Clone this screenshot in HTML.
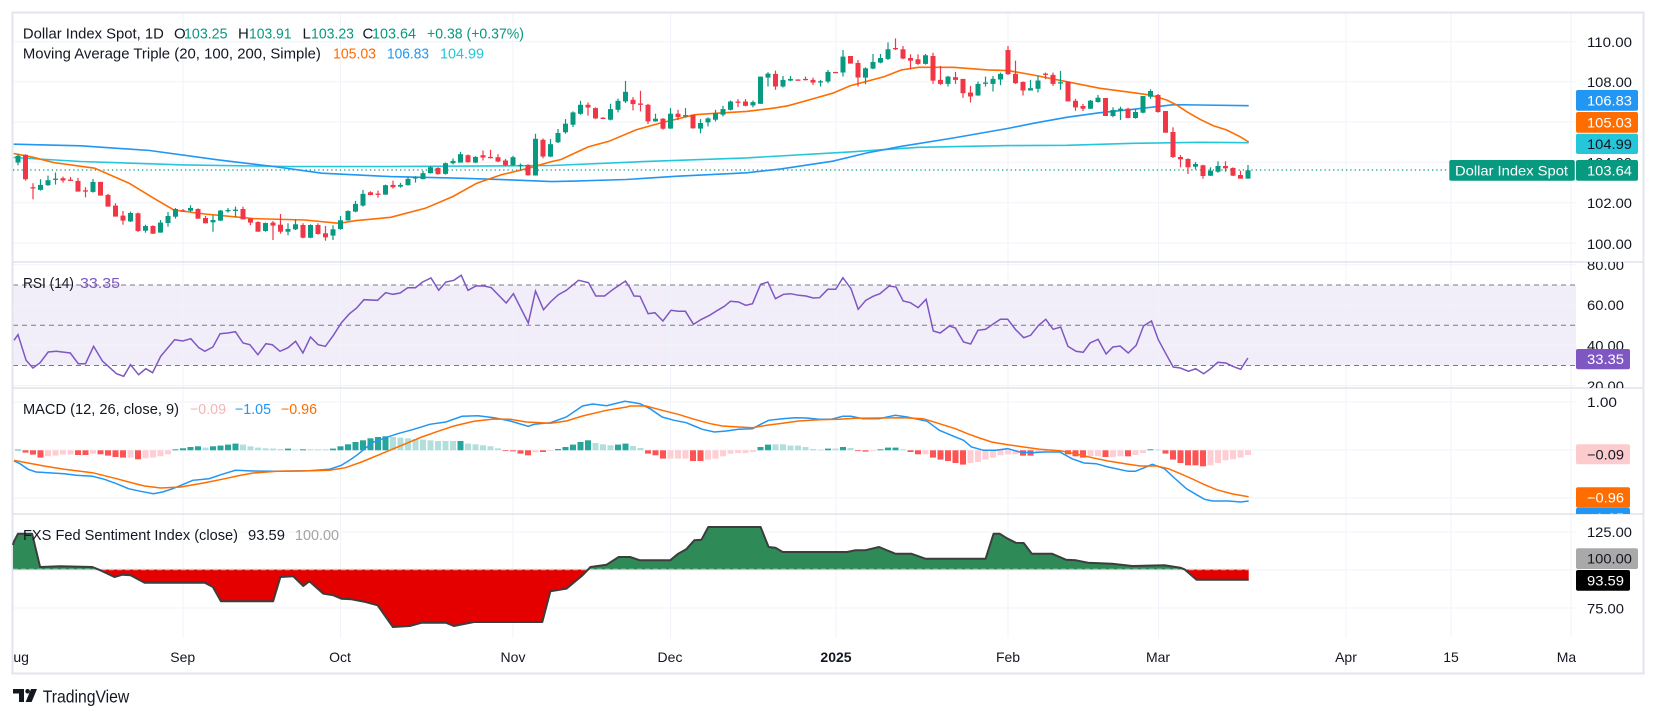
<!DOCTYPE html>
<html><head><meta charset="utf-8">
<style>
html,body{margin:0;padding:0;background:#fff;overflow:hidden;}
svg{display:block;font-family:"Liberation Sans",Arial,sans-serif;}
</style></head>
<body>
<svg id="s" xmlns="http://www.w3.org/2000/svg" width="1656" height="718" viewBox="0 0 1656 718">
<defs>
<clipPath id="cMain"><rect x="13" y="13" width="1563" height="249"/></clipPath>
<clipPath id="cAxMain"><rect x="1576" y="13" width="67" height="249"/></clipPath>
<clipPath id="cAxRsi"><rect x="1576" y="262" width="67" height="126"/></clipPath>
<clipPath id="cAxMacd"><rect x="1576" y="388" width="67" height="126"/></clipPath>
<clipPath id="cAxSent"><rect x="1576" y="514" width="67" height="124"/></clipPath>
<clipPath id="cTime"><rect x="13" y="640" width="1563" height="32"/></clipPath>
<clipPath id="cUp"><rect x="13" y="514" width="1563" height="55.5"/></clipPath>
<clipPath id="cDn"><rect x="13" y="569.5" width="1563" height="70"/></clipPath>
</defs>
<rect width="1656" height="718" fill="#fff"/>

<!-- RSI band -->
<rect x="13" y="285" width="1563" height="80.5" fill="#f2eef9"/>

<!-- grid -->
<g stroke="#f0f3fa" stroke-width="1">
<line x1="183" y1="13" x2="183" y2="638"/><line x1="340.5" y1="13" x2="340.5" y2="638"/>
<line x1="513" y1="13" x2="513" y2="638"/><line x1="670.5" y1="13" x2="670.5" y2="638"/>
<line x1="836" y1="13" x2="836" y2="638"/><line x1="1008" y1="13" x2="1008" y2="638"/>
<line x1="1158.5" y1="13" x2="1158.5" y2="638"/><line x1="1346" y1="13" x2="1346" y2="638"/>
<line x1="1451" y1="13" x2="1451" y2="638"/><line x1="1571" y1="13" x2="1571" y2="638"/>
<line x1="13" y1="41.7" x2="1576" y2="41.7"/><line x1="13" y1="81.7" x2="1576" y2="81.7"/>
<line x1="13" y1="122" x2="1576" y2="122"/><line x1="13" y1="162.3" x2="1576" y2="162.3"/>
<line x1="13" y1="202.7" x2="1576" y2="202.7"/><line x1="13" y1="243" x2="1576" y2="243"/>
<line x1="13" y1="264.8" x2="1576" y2="264.8"/><line x1="13" y1="305" x2="1576" y2="305"/>
<line x1="13" y1="345.3" x2="1576" y2="345.3"/><line x1="13" y1="385.6" x2="1576" y2="385.6"/>
<line x1="13" y1="402" x2="1576" y2="402"/><line x1="13" y1="450" x2="1576" y2="450"/>
<line x1="13" y1="498" x2="1576" y2="498"/>
<line x1="13" y1="532" x2="1576" y2="532"/><line x1="13" y1="570" x2="1576" y2="570"/>
<line x1="13" y1="608" x2="1576" y2="608"/>
</g>

<!-- RSI dashed levels -->
<g stroke="#787b86" stroke-width="1" stroke-dasharray="5,4">
<line x1="13" y1="285" x2="1576" y2="285"/>
<line x1="13" y1="325.2" x2="1576" y2="325.2"/>
<line x1="13" y1="365.5" x2="1576" y2="365.5"/>
</g>

<!-- separators & border -->
<g stroke="#e0e3eb" stroke-width="1.5">
<line x1="13" y1="262" x2="1643" y2="262"/>
<line x1="13" y1="388" x2="1643" y2="388"/>
<line x1="13" y1="514" x2="1643" y2="514"/>
</g>
<rect x="12.5" y="12.5" width="1631" height="661" fill="none" stroke="#e3e5ec" stroke-width="2"/>

<!-- price dotted line -->
<line x1="13" y1="170" x2="1449" y2="170" stroke="#089981" stroke-width="1.3" stroke-dasharray="1.3,3"/>

<g id="mainG" clip-path="url(#cMain)">
<polyline fill="none" stroke="#26c6da" stroke-width="1.6" points="13.7,157.5 80.9,161.5 184.2,164.9 287.4,166.5 390.7,166.5 494,165.9 551.9,165.5 643.3,161.6 746.6,157.9 849.9,151.9 918.7,147.3 1008.2,145.6 1066.7,145.3 1133.3,143.3 1200,142.3 1248.7,142.7"/>
<polyline fill="none" stroke="#2196f3" stroke-width="1.6" points="13.7,144.2 80.9,145.8 149.7,150.5 218.6,159.9 273.7,166.5 321.9,173.2 390.7,176.6 459.6,178.2 511.2,179.9 551.9,181.6 574.4,181.1 626.1,179.5 677.7,176.2 746.6,172.8 781,168.9 832.7,161.2 867.1,152.9 901.5,146.3 953.2,138 1008.2,128.4 1033.3,123.3 1066.7,117.3 1100,112.7 1133.3,109.3 1156.7,106.7 1173.3,104.7 1200,105 1248.7,105.7"/>
<polyline fill="none" stroke="#ff6d00" stroke-width="1.6" points="13.7,153.5 32.7,157.2 53.3,162.5 94.6,168.2 129.1,183.2 156.6,199.9 173.8,210 204.8,214 253,218.6 304.7,220 339.1,223.3 356.3,220.6 390.7,217.3 425.2,208.3 452.7,196.6 476.8,183.2 500.9,174.9 528.5,168.2 551.9,161.5 560.7,159.6 588.2,146.9 608.9,141.3 636.4,129.7 660.5,123 694.9,114.7 719,113.1 746.6,111.4 774.1,108.1 787.9,105.8 815.4,98.1 832.7,93.2 849.9,85.9 884.3,76.6 901.5,69.9 918.7,67.3 953.2,67.3 987.6,69.9 1008.2,70.6 1033.3,75 1066.7,81.7 1100,88.3 1133.3,92.7 1150,95 1166.7,100 1176.7,105 1186.7,111.7 1200,119.3 1213.3,125.7 1226.7,130 1240,136.7 1248.7,142"/>
<g id="candles"></g>
</g>

<!-- RSI line -->
<polyline id="rsi" fill="none" stroke="#7e57c2" stroke-width="1.5"/>

<!-- MACD -->
<g id="hist"></g>
<polyline id="macdB" fill="none" stroke="#2196f3" stroke-width="1.5"/>
<polyline id="macdO" fill="none" stroke="#ff6d00" stroke-width="1.5"/>

<!-- Sentiment -->
<polygon id="sUp" fill="#2e8b57" clip-path="url(#cUp)"/>
<polygon id="sDn" fill="#e50000" clip-path="url(#cDn)"/>
<line x1="13" y1="569.5" x2="1249" y2="569.5" stroke="#c8c8c8" stroke-width="1.5" stroke-dasharray="5,3"/>
<polyline id="sLine" fill="none" stroke="#3d3d3d" stroke-width="2" stroke-linejoin="round"/>

<!-- Legends -->
<g font-size="15" lengthAdjust="spacingAndGlyphs">
<text x="22.9" y="38.5" fill="#131722" textLength="141" lengthAdjust="spacingAndGlyphs">Dollar Index Spot, 1D</text>
<text x="174" y="38.5" fill="#131722">O</text>
<text x="184" y="38.5" fill="#089981" textLength="43.5" lengthAdjust="spacingAndGlyphs">103.25</text>
<text x="238" y="38.5" fill="#131722">H</text>
<text x="249" y="38.5" fill="#089981" textLength="42.5" lengthAdjust="spacingAndGlyphs">103.91</text>
<text x="302.5" y="38.5" fill="#131722">L</text>
<text x="311" y="38.5" fill="#089981" textLength="43" lengthAdjust="spacingAndGlyphs">103.23</text>
<text x="362.5" y="38.5" fill="#131722">C</text>
<text x="372" y="38.5" fill="#089981" textLength="44" lengthAdjust="spacingAndGlyphs">103.64</text>
<text x="427" y="38.5" fill="#089981" textLength="97" lengthAdjust="spacingAndGlyphs">+0.38 (+0.37%)</text>
<text x="22.9" y="58.5" fill="#131722" textLength="298" lengthAdjust="spacingAndGlyphs">Moving Average Triple (20, 100, 200, Simple)</text>
<text x="333" y="58.5" fill="#ff6d00" textLength="43" lengthAdjust="spacingAndGlyphs">105.03</text>
<text x="387" y="58.5" fill="#2196f3" textLength="42" lengthAdjust="spacingAndGlyphs">106.83</text>
<text x="440" y="58.5" fill="#26c6da" textLength="44" lengthAdjust="spacingAndGlyphs">104.99</text>
</g>
<g font-size="14.5">
<text x="23" y="287.8" fill="#131722" textLength="51" lengthAdjust="spacingAndGlyphs">RSI (14)</text>
<text x="80" y="287.8" fill="#7e57c2" textLength="40" lengthAdjust="spacingAndGlyphs">33.35</text>
<text x="23" y="413.8" fill="#131722" textLength="156" lengthAdjust="spacingAndGlyphs">MACD (12, 26, close, 9)</text>
<text x="190" y="413.8" fill="#f7b3b6" textLength="36" lengthAdjust="spacingAndGlyphs">−0.09</text>
<text x="235" y="413.8" fill="#2196f3" textLength="36" lengthAdjust="spacingAndGlyphs">−1.05</text>
<text x="281" y="413.8" fill="#ff6d00" textLength="36" lengthAdjust="spacingAndGlyphs">−0.96</text>
<text x="23" y="539.8" fill="#131722" textLength="215" lengthAdjust="spacingAndGlyphs">FXS Fed Sentiment Index (close)</text>
<text x="248" y="539.8" fill="#131722" textLength="37" lengthAdjust="spacingAndGlyphs">93.59</text>
<text x="295" y="539.8" fill="#a3a3a3" textLength="44" lengthAdjust="spacingAndGlyphs">100.00</text>
</g>

<!-- Price axis main -->
<g font-size="14" fill="#131722" clip-path="url(#cAxMain)">
<text x="1587" y="46.8" textLength="45" lengthAdjust="spacingAndGlyphs">110.00</text>
<text x="1587" y="86.8" textLength="45" lengthAdjust="spacingAndGlyphs">108.00</text>
<text x="1587" y="127" textLength="45" lengthAdjust="spacingAndGlyphs">106.00</text>
<text x="1587" y="167.3" textLength="45" lengthAdjust="spacingAndGlyphs">104.00</text>
<text x="1587" y="207.8" textLength="45" lengthAdjust="spacingAndGlyphs">102.00</text>
<text x="1587" y="249" textLength="45" lengthAdjust="spacingAndGlyphs">100.00</text>
<rect x="1576" y="90" width="62" height="20.7" rx="2" fill="#2196f3"/>
<text x="1587" y="105.3" fill="#fff" textLength="45" lengthAdjust="spacingAndGlyphs">106.83</text>
<rect x="1576" y="112" width="62" height="20.7" rx="2" fill="#ff6d00"/>
<text x="1587" y="127.3" fill="#fff" textLength="45" lengthAdjust="spacingAndGlyphs">105.03</text>
<rect x="1576" y="133.7" width="62" height="20.3" rx="2" fill="#26c6da"/>
<text x="1587" y="148.8" fill="#131722" textLength="45" lengthAdjust="spacingAndGlyphs">104.99</text>
<rect x="1576" y="160" width="62" height="20.7" rx="2" fill="#089981"/>
<text x="1587" y="175.3" fill="#fff" textLength="45" lengthAdjust="spacingAndGlyphs">103.64</text>
</g>
<rect x="1449.3" y="160" width="125.5" height="20.7" rx="2" fill="#089981"/>
<text x="1455" y="175.3" font-size="14" fill="#fff" textLength="113" lengthAdjust="spacingAndGlyphs">Dollar Index Spot</text>

<!-- RSI axis -->
<g font-size="14" fill="#131722" clip-path="url(#cAxRsi)">
<text x="1587" y="270" textLength="37" lengthAdjust="spacingAndGlyphs">80.00</text>
<text x="1587" y="310.2" textLength="37" lengthAdjust="spacingAndGlyphs">60.00</text>
<text x="1587" y="350.5" textLength="37" lengthAdjust="spacingAndGlyphs">40.00</text>
<text x="1587" y="390.8" textLength="37" lengthAdjust="spacingAndGlyphs">20.00</text>
<rect x="1576" y="349" width="54" height="20.3" rx="2" fill="#7e57c2"/>
<text x="1587" y="364.2" fill="#fff" textLength="37" lengthAdjust="spacingAndGlyphs">33.35</text>
</g>

<!-- MACD axis -->
<g font-size="14" fill="#131722" clip-path="url(#cAxMacd)">
<text x="1587" y="407.2" textLength="30" lengthAdjust="spacingAndGlyphs">1.00</text>
<rect x="1576" y="444.3" width="54" height="20" rx="2" fill="#fccbcd"/>
<text x="1587" y="459.3" textLength="37" lengthAdjust="spacingAndGlyphs">−0.09</text>
<rect x="1576" y="507.7" width="54" height="20" rx="2" fill="#2196f3"/>
<text x="1587" y="522.8" fill="#fff" textLength="37" lengthAdjust="spacingAndGlyphs">−1.05</text>
<rect x="1576" y="487.3" width="54" height="20.4" rx="2" fill="#ff6d00"/>
<text x="1587" y="502.5" fill="#fff" textLength="37" lengthAdjust="spacingAndGlyphs">−0.96</text>
</g>

<!-- Sentiment axis -->
<g font-size="14" fill="#131722" clip-path="url(#cAxSent)">
<text x="1587" y="537.2" textLength="45" lengthAdjust="spacingAndGlyphs">125.00</text>
<text x="1587" y="613.3" textLength="37" lengthAdjust="spacingAndGlyphs">75.00</text>
<rect x="1576" y="548.3" width="62" height="20.7" rx="2" fill="#a9a9a9"/>
<text x="1587" y="563.6" textLength="45" lengthAdjust="spacingAndGlyphs">100.00</text>
<rect x="1576" y="570" width="54" height="20.7" rx="2" fill="#000"/>
<text x="1587" y="585.3" fill="#fff" textLength="37" lengthAdjust="spacingAndGlyphs">93.59</text>
</g>

<!-- Time axis -->
<g font-size="14" fill="#131722" text-anchor="middle" clip-path="url(#cTime)">
<text x="16.5" y="662">Aug</text>
<text x="182.7" y="662">Sep</text>
<text x="340" y="662">Oct</text>
<text x="513" y="662">Nov</text>
<text x="670" y="662">Dec</text>
<text x="836" y="662" font-weight="bold">2025</text>
<text x="1008" y="662">Feb</text>
<text x="1158" y="662">Mar</text>
<text x="1346" y="662">Apr</text>
<text x="1451" y="662">15</text>
<text x="1570" y="662">May</text>
</g>

<!-- TradingView logo -->
<g fill="#131722">
<path d="M13 689 H24 V702 H19 V693.5 H13 Z"/>
<circle cx="27.6" cy="691.3" r="2.3"/>
<polygon points="31,689 37,689 31.6,702 25.6,702"/>
<text x="42.7" y="702.5" font-size="17.5" textLength="86.6" lengthAdjust="spacingAndGlyphs">TradingView</text>
</g>
</svg>

<script>
(function(){
const NS='http://www.w3.org/2000/svg';
function el(tag,a,p){const e=document.createElementNS(NS,tag);for(const k in a)e.setAttribute(k,a[k]);p.appendChild(e);return e;}
const Z6=[[282,288,308,316,1],[283,285,358,362,0],[370,382,384,418,0],[358,375,390,392,1],[347,361,376,378,1],[338,356,358,374,1],[350,355,362,368,0],[351,359,361,363,0],[354,363,395,395,0],[382,391,393,412,0],
[357,366,396,398,1],[366,366,407,407,0],[402,405,440,440,0],[430,437,470,470,0],[453,467,482,494,0],[455,459,484,486,1],[458,460,513,516,0],[494,498,512,518,1],[496,498,521,521,0],[480,488,518,518,1],
[456,468,489,500,1],[444,447,470,476,1],[447,451,453,455,0],[436,444,452,456,1],[445,447,476,476,0],[468,474,490,490,0],[466,480,487,515,1],[450,452,482,483,1],[444,450,452,458,1],[440,449,451,472,1],
[440,447,478,478,0],[474,476,488,496,0],[484,486,515,515,0],[488,489,513,515,1],[483,488,497,540,0],[462,494,515,521,0],[490,507,515,526,1],[478,493,508,510,1],[490,495,533,535,0],[493,495,533,535,1],
[490,495,522,524,0],[498,520,532,542,0],[496,508,527,540,1],[468,481,507,509,1],[451,453,481,482,1],[423,432,455,457,1],[390,402,437,440,1],[394,397,405,406,0],[392,401,403,413,0],[374,376,404,405,1],
[362,375,382,386,0],[369,375,380,383,1],[350,357,376,377,1],[349,352,354,368,1],[333,340,358,358,1],[318,322,340,341,1],[322,324,343,344,0],[308,310,342,344,1],[296,303,310,314,1],[276,283,308,308,1],
[284,286,307,308,0],[289,291,308,310,1],[272,286,293,302,0],[270,291,293,296,0],[283,292,305,307,0],[297,302,316,320,0],[288,292,316,318,1],[311,315,317,332,1],[313,315,346,347,0],[222,237,347,347,1],
[236,240,290,295,0],[238,253,290,292,1]];
const Z7=[[298,310,338,340,1],[268,282,308,312,1],[245,248,285,292,1],[213,225,252,255,1],[218,225,233,258,0],[233,235,266,268,0],[262,264,266,268,0],[222,238,270,272,1],[206,213,240,248,1],[153,186,215,220,1],
[202,210,223,242,0],[183,221,223,245,0],[222,225,275,283,0],[252,267,275,276,1],[265,267,297,300,0],[235,252,297,297,1],[240,252,262,271,0],[235,256,258,262,1],[255,255,296,297,0],[268,280,297,311,1],
[263,266,278,290,1],[240,250,270,275,1],[228,238,255,260,1],[212,215,240,242,1],[208,215,217,232,0],[208,215,228,230,0],[212,217,227,233,1],[140,140,222,222,1],[127,131,143,170,1],[122,132,170,180,0],
[138,150,170,173,1],[138,147,152,154,1],[148,149,151,152,0],[140,147,149,152,0],[143,150,158,165,0],[150,154,156,170,1],[120,126,155,160,1],[126,126,128,128,0],[60,80,128,140,1],[78,78,101,101,0],
[90,99,143,170,0],[112,115,143,163,1],[72,96,116,118,1],[72,84,98,100,1],[37,58,87,90,1],[25,54,56,60,0],[48,58,86,88,0],[73,84,92,118,0],[73,88,102,105,0],[72,76,102,104,1],
[68,78,152,162,0],[108,150,162,165,0],[138,140,162,170,1],[126,142,150,162,0],[147,147,190,204,0],[168,188,200,218,0],[155,162,197,198,1],[140,158,160,170,1],[138,147,162,185,1],[128,132,149,166,1],
[48,60,133,135,0],[92,132,160,162,0],[155,156,182,197,0],[150,175,182,182,1],[138,152,177,188,1],[128,131,134,148,0],[128,135,162,168,0],[123,157,160,180,1],[155,155,215,215,0],[207,213,233,243,0]];
const Z8=[[222,228,236,243,0],[210,212,236,237,1],[195,203,216,218,1],[204,204,258,258,0],[232,240,258,262,1],[230,236,242,270,1],[233,236,264,265,0],[238,246,264,266,1],[198,198,248,250,1],[178,183,200,206,1],
[192,195,246,248,0],[243,243,308,308,0],[292,306,381,384,0],[375,381,388,412,0],[385,387,412,432,0],[396,402,410,418,1],[404,406,438,446,0],[412,422,437,438,1],[394,408,425,428,1],[394,408,415,425,0],
[412,414,437,438,0],[422,435,446,446,0],[405,421,446,446,1]];
const gC=document.getElementById('candles');
function drawC(arr,start,fy){arr.forEach(function(c,j){const i=start+j;const x=18+7.5*i;const col=c[4]?'#089981':'#f23645';
 el('line',{x1:x,x2:x,y1:fy(c[0]).toFixed(1),y2:fy(c[3]).toFixed(1),stroke:col,'stroke-width':1.2},gC);
 const t=fy(c[1]),b=fy(c[2]);el('rect',{x:(x-2.5).toFixed(1),y:t.toFixed(1),width:5,height:Math.max(1.3,b-t).toFixed(1),fill:col},gC);});}
drawC(Z6,0,function(y){return 81.7+(y-66)*0.334;});
drawC(Z7,72,function(y){return 41.7+(y-35)*0.332;});
drawC(Z8,142,function(y){return 30+y/3;});

function pts(a,ox,maxx){const r=[];for(let i=0;i<a.length;i+=2){if(maxx!=null&&a[i]>maxx)continue;r.push((ox+a[i]/2.489).toFixed(1)+','+(262+a[i+1]/3).toFixed(1));}return r;}
const R9=[5,235,15,218,35,295,52,318,70,302,90,270,110,268,145,273,165,305,183,305,203,253,225,297,260,335,278,343,295,308,315,338,333,320,350,332,370,283,405,233,425,237,445,230,465,257,480,268,500,255,518,215,537,213,556,209,575,243,592,248,612,278,632,245,648,248,667,268,687,257,706,238,724,273,743,225,762,248,780,253,800,220,820,182,840,155,858,138,876,113,910,115,930,92,948,97,966,93,985,77,1004,77,1022,60,1043,48,1062,85,1080,60,1100,55,1118,40,1135,85,1155,72,1175,72,1193,77,1230,123,1248,95,1285,183,1303,87,1323,143,1340,120,1360,98,1380,85,1410,55,1435,62,1453,102,1475,102,1495,83,1527,57];
const R10=[0,78,10,102,25,103,45,155,62,152,82,177,102,145,120,148,138,148,158,187,178,172,198,160,218,145,235,133,250,118,270,120,288,130,305,125,325,67,343,60,362,110,382,97,400,95,420,100,438,102,456,108,472,107,492,82,512,82,530,47,550,80,568,142,587,115,605,103,622,95,645,72,662,75,680,117,698,122,717,137,737,112,755,207,772,213,795,192,810,198,830,240,848,246,866,205,885,202,905,185,922,172,940,172,960,203,980,227,997,220,1017,190,1035,172,1053,202,1072,195,1090,253,1110,268,1128,271,1145,243,1165,232,1185,276,1202,255,1220,252,1240,273,1260,250,1278,192,1298,177,1315,233,1335,278,1352,315,1370,318,1390,328,1408,320,1428,335,1445,320,1463,301,1483,303,1500,313,1520,322,1538,288];
document.getElementById('rsi').setAttribute('points',pts(R9,12,1530).concat(pts(R10,630)).join(' '));

const MB9=[5,597,20,605,40,622,60,630,90,632,130,635,160,640,200,643,230,652,260,665,290,680,320,688,352,695,375,690,400,680,430,665,450,655,490,650,520,638,556,625,600,627,650,628,700,627,740,626,790,622,820,610,840,595,860,578,880,558,900,540,930,527,960,515,1000,502,1040,487,1080,480,1120,463,1160,461,1200,467,1240,477,1285,493,1300,487,1340,482,1380,465,1420,432,1445,426,1480,431,1525,418];
const MB10=[0,420,25,425,50,440,80,465,110,475,140,482,160,492,180,502,210,510,240,507,270,502,305,500,325,487,345,475,380,470,410,467,440,468,470,472,500,472,530,463,550,463,580,470,620,470,660,460,690,465,740,478,770,505,800,520,830,535,850,555,880,565,910,565,940,560,970,570,1000,572,1030,570,1070,570,1100,590,1130,603,1160,605,1190,615,1240,628,1258,628,1280,617,1300,607,1330,620,1355,648,1385,680,1410,698,1430,712,1450,717,1490,717,1520,720,1540,717];
const MO9=[5,595,40,603,80,612,130,622,200,632,260,650,300,663,330,672,370,678,420,675,480,662,530,650,560,642,600,633,660,628,720,627,790,625,830,617,870,600,900,585,940,565,980,545,1020,525,1060,508,1100,492,1150,478,1200,471,1240,472,1280,480,1340,484,1380,477,1420,462,1480,445,1530,435];
const MO10=[0,432,40,432,80,445,120,457,160,472,200,485,230,492,270,495,305,497,340,490,380,484,420,477,470,473,520,472,560,469,620,468,680,467,730,470,770,485,810,500,840,515,870,528,900,540,940,548,980,555,1020,562,1070,566,1110,576,1150,587,1190,597,1240,607,1270,612,1310,612,1340,620,1370,635,1400,651,1430,668,1460,683,1500,696,1540,704];
document.getElementById('macdB').setAttribute('points',pts(MB9,12,1530).concat(pts(MB10,630)).join(' '));
document.getElementById('macdO').setAttribute('points',pts(MO9,12,1530).concat(pts(MO10,630)).join(' '));

const H="2G,-7R,-13R,-22R,-18r,-16r,-13r,-13r,-14R,-14R,-10r,-12R,-16R,-20R,-22R,-22r,-27R,-24r,-22r,-18r,-12r,3G,6G,10G,12G,8g,12G,14G,17G,20G,17g,12g,8g,6g,5g,4g,5G,2g,3G,3g,3g,3g,5G,12G,18G,25G,30G,36G,40G,42G,40g,38g,36g,34g,32g,30g,28g,28g,28g,28G,20g,18g,15g,12g,6g,-2R,-3R,-10R,-15R,-6r,-5R,-2r,4G,10G,17G,25G,30G,22g,18g,15g,17G,20G,13g,7g,-10R,-15R,-25R,-25r,-25r,-25r,-32R,-32R,-28r,-25r,-18r,-10r,-8r,-8r,-5r,10G,17G,18g,18g,14g,14g,10g,4g,2g,5G,5g,10G,7g,-2R,-4R,-2r,3G,8G,8G,3g,-5R,-12R,-12r,-22R,-28R,-32R,-38R,-43R,-38r,-35r,-28r,-22r,-15r,-12r,-12r,-16R,-16R,-8r,-5r,-5r,-5r,-12R,-18R,-22R,-18r,-18r,-20R,-20r,-18r,-18R,-14r,-8r,3G,2g,-10R,-28R,-38R,-45R,-45R,-48R,-45r,-38r,-30r,-27r,-22r,-14r".split(',');
const COL={G:'#26a69a',g:'#b2dfdb',R:'#ff5252',r:'#ffcdd2'};
const gH=document.getElementById('hist');
H.forEach(function(s,i){const c=s.slice(-1);const v=parseFloat(s)/3;const x=18+7.5*i;const y=v>0?450.3-v:450.3;
 el('rect',{x:(x-3).toFixed(1),y:y.toFixed(1),width:6,height:Math.max(0.8,Math.abs(v)).toFixed(1),fill:COL[c]},gH);});

const S9=[5,838,15,815,50,815,70,915,120,913,200,915,220,925,255,945,275,938,295,940,330,962,360,962,480,962,500,975,520,1018,650,1018,668,945,700,943,725,972,740,958,775,995,800,1000,820,1010,845,1012,880,1020,910,1030,948,1095,990,1092,1020,1082,1080,1082,1100,1092,1150,1080,1320,1080,1340,988,1380,980,1420,940,1440,915,1480,908,1510,885];
const S10=[0,885,25,895,100,895,120,875,140,862,160,835,178,833,195,795,325,795,345,855,362,857,380,870,540,870,560,865,585,865,620,855,660,875,700,875,735,890,885,890,905,815,920,815,940,830,960,842,980,843,1000,875,1050,875,1085,893,1110,895,1140,902,1200,905,1250,912,1330,910,1370,917,1380,922,1410,953,1540,953];
const sp=['13,545'].concat(pts(S9,12,1512)).concat(pts(S10,630));
const poly=sp.concat(['1248.7,569.5','13,569.5']).join(' ');
document.getElementById('sUp').setAttribute('points',poly);
document.getElementById('sDn').setAttribute('points',poly);
document.getElementById('sLine').setAttribute('points',sp.join(' '));
})();
</script>
</body></html>
